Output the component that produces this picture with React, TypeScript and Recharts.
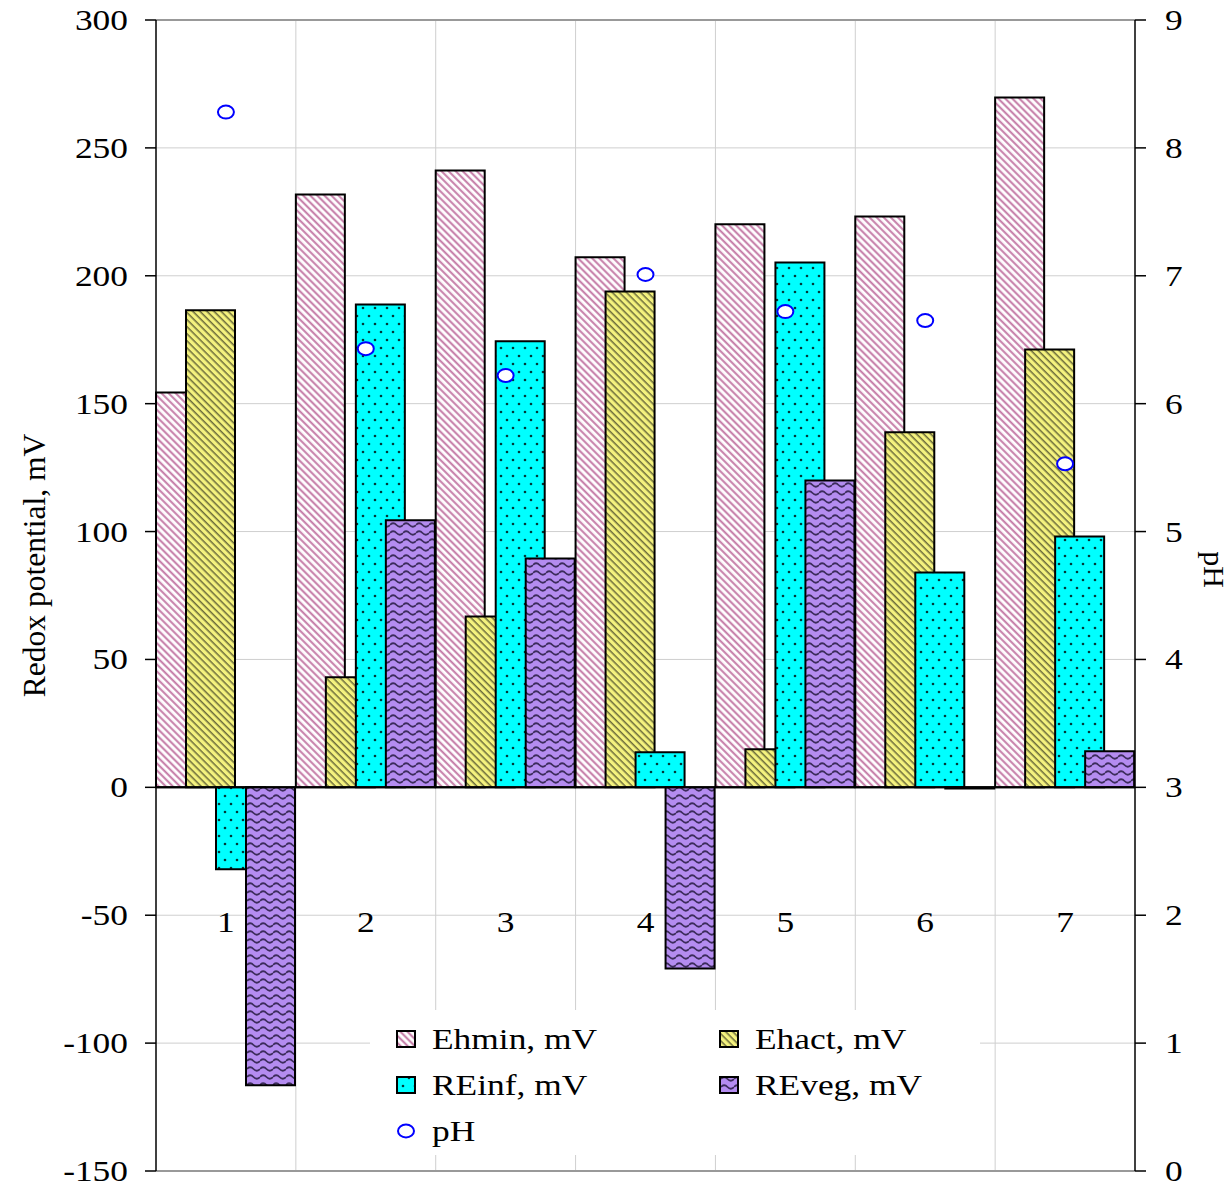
import { ComposedChart, Bar, Scatter, XAxis, YAxis, CartesianGrid, ReferenceLine, Legend } from 'recharts';

const categories = ['1', '2', '3', '4', '5', '6', '7'];
const ehmin = [154.4, 231.8, 241.2, 207.2, 220.1, 223.2, 269.7];
const ehact = [186.5, 43, 66.8, 193.9, 14.9, 138.8, 171.2];
const reinf = [-32, 188.8, 174.4, 13.7, 205.2, 84, 98.1];
const reveg = [-116.5, 104.4, 89.5, -70.8, 120, -0.5, 14.1];
const ph = [8.28, 6.43, 6.22, 7.01, 6.72, 6.65, 5.53];
const leftTicks = [-150, -100, -50, 0, 50, 100, 150, 200, 250, 300];
const rightTicks = [0, 1, 2, 3, 4, 5, 6, 7, 8, 9];

const data = categories.map((cat, i) => ({
  cat,
  ehmin: ehmin[i],
  ehact: ehact[i],
  reinf: reinf[i],
  reveg: reveg[i],
  ph: ph[i],
}));

const FONT = '"Liberation Serif", "Times New Roman", serif';
const SX = 1.18;

const legendItems = [
  { name: 'Ehmin, mV', fill: 'url(#patEhmin)', col: 0, row: 0 },
  { name: 'Ehact, mV', fill: 'url(#patEhact)', col: 1, row: 0 },
  { name: 'REinf, mV', fill: 'url(#patReinf)', col: 0, row: 1 },
  { name: 'REveg, mV', fill: 'url(#patReveg)', col: 1, row: 1 },
  { name: 'pH', fill: 'none', col: 0, row: 2 },
];

function StretchText({ x, y, anchor = 'start', size = 30, children }: any) {
  return (
    <g transform={`translate(${x},${y}) scale(${SX},1)`}>
      <text x={0} y={0} textAnchor={anchor} fontSize={size} fontFamily={FONT} fill="#000">
        {children}
      </text>
    </g>
  );
}

const LeftTick = ({ x, y, payload }: any) => (
  <StretchText x={x - 15} y={y + 10} anchor="end">{payload.value}</StretchText>
);

const RightTick = ({ x, y, payload }: any) => (
  <StretchText x={x + 17} y={y + 10}>{payload.value}</StretchText>
);

const CatTick = ({ x, payload }: any) => (
  <StretchText x={x} y={932} anchor="middle">{payload.value}</StretchText>
);

const PhDot = ({ cx, cy }: any) => (
  <ellipse cx={cx} cy={cy} rx={8} ry={6.5} fill="#fff" stroke="#0000ff" strokeWidth={2} />
);

// vertical grid lines sit on the category boundaries, not the centres
const boundaryLines = ({ offset }: any) =>
  categories.slice(1).map((_, i) => offset.left + ((i + 1) * offset.width) / categories.length);

function LegendBox() {
  return (
    <svg width={610} height={145} style={{ display: 'block' }}>
      <rect x={0} y={0} width={610} height={145} fill="#fff" />
      {legendItems.map((it) => {
        const sx = it.col === 0 ? 27 : 350;
        const tx = it.col === 0 ? 62 : 385;
        const cy = 29 + it.row * 46;
        return (
          <g key={it.name}>
            {it.name === 'pH' ? (
              <ellipse cx={sx + 9} cy={cy} rx={8} ry={6.5} fill="#fff" stroke="#0000ff" strokeWidth={2} />
            ) : (
              <rect x={sx} y={cy - 8} width={18} height={16} fill={it.fill} stroke="#000" strokeWidth={2} />
            )}
            <StretchText x={tx} y={cy + 10}>{it.name}</StretchText>
          </g>
        );
      })}
    </svg>
  );
}

export default function App() {
  return (
    <div style={{ position: 'absolute', left: 0, top: 0, width: 1231, height: 1189, background: '#fff' }}>
      <ComposedChart
        width={1231}
        height={1189}
        data={data}
        margin={{ top: 20, right: 0, bottom: 0, left: 0 }}
        barSize={49}
        barGap={-19}
        barCategoryGap={0}
        style={{ fontFamily: FONT }}
      >
        <defs>
          <pattern id="patEhmin" width="5" height="5" patternUnits="userSpaceOnUse" patternTransform="rotate(-45)">
            <rect width="5" height="5" fill="#fff" />
            <line x1="1.2" y1="0" x2="1.2" y2="5" stroke="#c47aa6" strokeWidth="2" />
          </pattern>
          <pattern id="patEhact" width="5" height="5" patternUnits="userSpaceOnUse" patternTransform="rotate(-45)">
            <rect width="5" height="5" fill="#f4f27e" />
            <line x1="1.2" y1="0" x2="1.2" y2="5" stroke="#55552e" strokeWidth="1.3" />
          </pattern>
          <pattern id="patReinf" width="12" height="16" patternUnits="userSpaceOnUse">
            <rect width="12" height="16" fill="#00ffff" />
            <circle cx="3" cy="4" r="1.3" fill="#003838" />
            <circle cx="9" cy="12" r="1.3" fill="#003838" />
          </pattern>
          <pattern id="patReveg" width="13" height="8" patternUnits="userSpaceOnUse">
            <rect width="13" height="8" fill="#b48cf0" />
            <path d="M0 5 Q3.25 1.5 6.5 5 T13 5" fill="none" stroke="#3c2c5c" strokeWidth="1.8" />
          </pattern>
        </defs>
        <CartesianGrid yAxisId="left" stroke="#cfcfcf" strokeWidth={1} verticalCoordinatesGenerator={boundaryLines} />
        <XAxis dataKey="cat" axisLine={false} tickLine={false} height={18} tick={<CatTick />} interval={0} />
        <YAxis
          yAxisId="left"
          domain={[-150, 300]}
          ticks={leftTicks}
          width={156}
          tickSize={11}
          interval={0}
          axisLine={{ stroke: '#000', strokeWidth: 1.5 }}
          tickLine={{ stroke: '#000', strokeWidth: 1.5 }}
          tick={<LeftTick />}
          label={{
            content: ({ viewBox }: any) => (
              <text
                transform={`translate(${viewBox.x + 45},${viewBox.y + viewBox.height / 2 - 30}) rotate(-90)`}
                textAnchor="middle"
                fontSize={31.5}
                fontFamily={FONT}
                fill="#000"
              >
                Redox potential, mV
              </text>
            ),
          }}
        />
        <YAxis
          yAxisId="right"
          orientation="right"
          domain={[0, 9]}
          ticks={rightTicks}
          width={96}
          tickSize={11}
          interval={0}
          axisLine={{ stroke: '#000', strokeWidth: 1.5 }}
          tickLine={{ stroke: '#000', strokeWidth: 1.5 }}
          tick={<RightTick />}
          label={{
            content: ({ viewBox }: any) => (
              <text
                transform={`translate(${viewBox.x + 69},${viewBox.y + viewBox.height / 2 - 26}) rotate(90)`}
                textAnchor="middle"
                fontSize={30}
                fontFamily={FONT}
                fill="#000"
              >
                pH
              </text>
            ),
          }}
        />
        <ReferenceLine yAxisId="left" y={300} stroke="#999" strokeWidth={2} />
        <ReferenceLine yAxisId="left" y={-150} stroke="#999" strokeWidth={2} />
        <Bar yAxisId="left" dataKey="ehmin" name="Ehmin, mV" fill="url(#patEhmin)" stroke="#000" strokeWidth={2} isAnimationActive={false} />
        <Bar yAxisId="left" dataKey="ehact" name="Ehact, mV" fill="url(#patEhact)" stroke="#000" strokeWidth={2} isAnimationActive={false} />
        <Bar yAxisId="left" dataKey="reinf" name="REinf, mV" fill="url(#patReinf)" stroke="#000" strokeWidth={2} isAnimationActive={false} />
        <Bar yAxisId="left" dataKey="reveg" name="REveg, mV" fill="url(#patReveg)" stroke="#000" strokeWidth={2} isAnimationActive={false} />
        <ReferenceLine yAxisId="left" y={0} stroke="#000" strokeWidth={2} />
        <Scatter yAxisId="right" dataKey="ph" name="pH" shape={<PhDot />} isAnimationActive={false} />
        <Legend
          layout="vertical"
          align="center"
          verticalAlign="middle"
          content={() => <LegendBox />}
          wrapperStyle={{ position: 'absolute', left: 370, top: 1010, width: 610, height: 145 }}
        />
      </ComposedChart>
    </div>
  );
}
